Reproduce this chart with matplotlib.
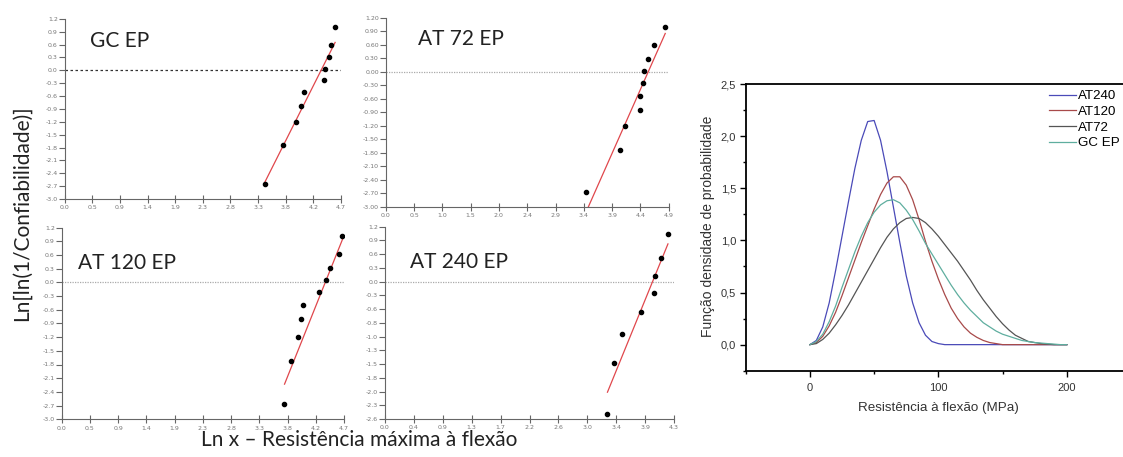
import numpy as np
import matplotlib.pyplot as plt
from matplotlib.ticker import MultipleLocator, FuncFormatter

# ---- Weibull plots: ln x vs ln[ln(1/R)] ----
gc_x = [3.40, 3.71, 3.93, 4.02, 4.07, 4.41, 4.42, 4.50, 4.53, 4.59]
gc_y = [-2.66, -1.73, -1.20, -0.83, -0.51, -0.23, 0.03, 0.30, 0.60, 1.00]
gc_fit_x = [3.40, 4.60]
gc_fit_y = [-2.62, 0.65]

at72_x = [3.47, 4.06, 4.15, 4.40, 4.41, 4.45, 4.47, 4.55, 4.64, 4.84]
at72_y = [-2.68, -1.74, -1.21, -0.84, -0.53, -0.24, 0.02, 0.29, 0.59, 0.99]
at72_fit_x = [3.51, 4.84]
at72_fit_y = [-3.00, 0.85]

at120_x = [3.70, 3.81, 3.93, 3.98, 4.01, 4.28, 4.40, 4.46, 4.61, 4.67]
at120_y = [-2.66, -1.72, -1.19, -0.80, -0.50, -0.21, 0.05, 0.32, 0.62, 1.02]
at120_fit_x = [3.71, 4.69]
at120_fit_y = [-2.23, 0.99]

at240_x = [3.31, 3.41, 3.52, 3.81, 4.00, 4.02, 4.11, 4.21]
at240_y = [-2.51, -1.50, -0.92, -0.49, -0.12, 0.23, 0.59, 1.06]
at240_fit_x = [3.31, 4.21]
at240_fit_y = [-2.07, 0.86]

# tick labels as printed on each small panel
xlab_47 = ['0.0', '0.5', '0.9', '1.4', '1.9', '2.3', '2.8', '3.3', '3.8', '4.2', '4.7']
xlab_49 = ['0.0', '0.5', '1.0', '1.5', '2.0', '2.4', '2.9', '3.4', '3.9', '4.4', '4.9']
xlab_43 = ['0.0', '0.4', '0.9', '1.3', '1.7', '2.2', '2.6', '3.0', '3.4', '3.9', '4.3']
ylab_1 = ['1.2', '0.9', '0.6', '0.3', '0.0', '-0.3', '-0.6', '-0.9', '-1.2', '-1.5',
          '-1.8', '-2.1', '-2.4', '-2.7', '-3.0']
ylab_2 = ['1.20', '0.90', '0.60', '0.30', '0.00', '-0.30', '-0.60', '-0.90', '-1.20',
          '-1.50', '-1.80', '-2.10', '-2.40', '-2.70', '-3.00']
ylab_240 = ['1.2', '0.9', '0.6', '0.3', '0.0', '-0.3', '-0.6', '-0.8', '-1.0', '-1.3',
            '-1.5', '-1.8', '-2.0', '-2.3', '-2.6']

# ---- probability density curves (right) ----
stress = list(range(0, 205, 5))
pdf_at240 = [0, 0.04, 0.17, 0.40, 0.71, 1.04, 1.37, 1.69, 1.96, 2.14, 2.15, 1.96, 1.66,
             1.32, 0.98, 0.66, 0.40, 0.21, 0.09, 0.03, 0.01] + [0] * 20
pdf_at120 = [0, 0.02, 0.08, 0.18, 0.31, 0.47, 0.64, 0.81, 0.98, 1.14, 1.30, 1.44, 1.55,
             1.61, 1.61, 1.53, 1.39, 1.20, 0.99, 0.80, 0.63, 0.48, 0.35, 0.25, 0.17,
             0.11, 0.07, 0.04, 0.02, 0.01, 0] + [0] * 10
pdf_at72 = [0, 0.01, 0.05, 0.11, 0.19, 0.28, 0.38, 0.49, 0.60, 0.71, 0.82, 0.93, 1.03,
            1.11, 1.17, 1.21, 1.22, 1.21, 1.17, 1.11, 1.04, 0.96, 0.88, 0.80, 0.71,
            0.62, 0.52, 0.43, 0.35, 0.27, 0.20, 0.14, 0.09, 0.06, 0.03, 0.02, 0.01,
            0.005, 0, 0, 0]
pdf_gc = [0, 0.03, 0.10, 0.22, 0.37, 0.55, 0.72, 0.89, 1.04, 1.17, 1.27, 1.34, 1.38,
          1.39, 1.36, 1.29, 1.20, 1.09, 0.97, 0.87, 0.77, 0.67, 0.57, 0.48, 0.40, 0.33,
          0.27, 0.21, 0.17, 0.13, 0.10, 0.08, 0.06, 0.04, 0.03, 0.02, 0.015, 0.01,
          0.005, 0, 0]

W, H = 1123, 457


def px_axes(fig, left, top, right, bottom):
    # axes placed from pixel edges of the reference
    return fig.add_axes([left / W, 1 - bottom / H, (right - left) / W, (bottom - top) / H])


def weibull_panel(ax, xs, ys, fx, fy, xmax, xlabels, ymax, ymin, ylabels, title, tpos,
                  ref_y, ref_color, ref_ls):
    ax.set_xlim(0, xmax)
    ax.set_ylim(ymin, ymax)
    yt = np.linspace(ymax, ymin, len(ylabels))
    ax.axhline(ref_y, color=ref_color, ls=ref_ls, lw=0.9, zorder=1)
    ax.plot(fx, fy, color='#e0474c', lw=0.9, zorder=2)
    ax.plot(xs, ys, 'o', color='black', ms=3.0, zorder=3)
    ax.set_xticks(np.linspace(0, xmax, len(xlabels)))
    ax.set_xticklabels(xlabels)
    ax.set_yticks(yt)
    ax.set_yticklabels(ylabels)
    for s in ['top', 'right']:
        ax.spines[s].set_visible(False)
    for s in ['left', 'bottom']:
        ax.spines[s].set_color('#666666')
        ax.spines[s].set_linewidth(0.8)
    ax.tick_params(axis='x', direction='inout', length=6, width=0.8, color='#666666',
                   labelsize=4.5, labelcolor='#777777', pad=1.5)
    ax.tick_params(axis='y', direction='out', length=4, width=0.8, color='#666666',
                   labelsize=4.5, labelcolor='#777777', pad=1)
    ax.text(tpos[0], tpos[1], title, transform=ax.transAxes, ha='left', va='center',
            fontsize=15, family='Lato', color='#222222')


fig = plt.figure(figsize=(W / 100, H / 100), dpi=100)

ax1 = px_axes(fig, 64.7, 18.8, 341, 199)
weibull_panel(ax1, gc_x, gc_y, gc_fit_x, gc_fit_y, 4.7, xlab_47, 1.2, -3.0, ylab_1,
              'GC EP', (0.092, 0.877), 0.0, '#333333', (0, (2, 2)))

ax2 = px_axes(fig, 385.7, 17.7, 668.7, 206.7)
weibull_panel(ax2, at72_x, at72_y, at72_fit_x, at72_fit_y, 4.9, xlab_49, 1.2, -3.0, ylab_2,
              'AT 72 EP', (0.114, 0.887), 0.0, '#aaaaaa', (0, (1, 1)))

ax3 = px_axes(fig, 61.7, 227.5, 344, 419.3)
weibull_panel(ax3, at120_x, at120_y, at120_fit_x, at120_fit_y, 4.7, xlab_47, 1.2, -3.0, ylab_1,
              'AT 120 EP', (0.058, 0.816), 0.0, '#aaaaaa', (0, (1, 1)))

ax4 = px_axes(fig, 385, 226.7, 674, 419)
ref240 = np.linspace(1.2, -2.6, 15)[4]
weibull_panel(ax4, at240_x, at240_y, at240_fit_x, at240_fit_y, 4.3, xlab_43, 1.2, -2.6, ylab_240,
              'AT 240 EP', (0.0865, 0.818), ref240, '#aaaaaa', (0, (1, 1)))

fig.text(22 / W, 1 - 213 / H, 'Ln[ln(1/Confiabilidade)]', rotation=90, ha='center',
         va='center', fontsize=15, family='Lato', color='#222222')
fig.text(359 / W, 1 - 440 / H, 'Ln x – Resistência máxima à flexão', ha='center',
         va='center', fontsize=15, family='Lato', color='#222222')

# ---- right: density curves ----
ax5 = px_axes(fig, 745.7, 84, 1131, 370.7)
sans = 'Liberation Sans'
ax5.plot(stress, pdf_at240, color='#4a4ab8', lw=0.9, label='AT240')
ax5.plot(stress, pdf_at120, color='#a84a4a', lw=0.9, label='AT120')
ax5.plot(stress, pdf_at72, color='#555555', lw=0.9, label='AT72')
ax5.plot(stress, pdf_gc, color='#5fae9f', lw=0.9, label='GC EP')
ax5.set_xlim(-50, 250)
ax5.set_ylim(-0.25, 2.5)
ax5.xaxis.set_major_locator(MultipleLocator(100))
ax5.xaxis.set_minor_locator(MultipleLocator(50))
ax5.yaxis.set_major_locator(MultipleLocator(0.5))
ax5.yaxis.set_minor_locator(MultipleLocator(0.25))
ax5.yaxis.set_major_formatter(FuncFormatter(lambda v, p: f'{v:.1f}'.replace('.', ',')))
ax5.tick_params(which='major', direction='out', length=4, width=1, labelsize=8,
                labelcolor='#333333', pad=3)
ax5.tick_params(which='minor', direction='out', length=2.5, width=1)
ax5.tick_params(axis='x', which='major', pad=5)
for s in ax5.spines.values():
    s.set_linewidth(1.3)
for lab in ax5.get_xticklabels() + ax5.get_yticklabels():
    lab.set_family(sans)
ax5.set_xlabel('Resistência à flexão (MPa)', family=sans, fontsize=9.6, color='#333333',
               labelpad=6)
fig.text(708 / W, 1 - 226 / H, 'Função densidade de probabilidade', rotation=90,
         ha='center', va='center', family=sans, fontsize=10, color='#333333')
fig.legend(loc='upper left', bbox_to_anchor=(1049 / W, 1 - 90 / H), frameon=False,
           prop={'family': sans, 'size': 9.6}, handlelength=2.05, handletextpad=0.15,
           labelspacing=0.25, borderpad=0, borderaxespad=0)

fig.savefig('out.png', dpi=100)
